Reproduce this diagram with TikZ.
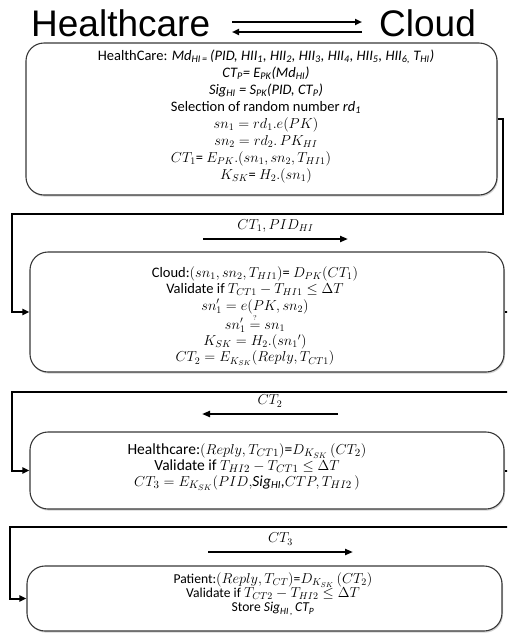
\documentclass[tikz,border=0pt]{standalone}
\usepackage{amsmath}
\usepackage[no-math]{fontspec}
\setmainfont{Carlito}
\newfontfamily\titlefont{Liberation Sans}
\usetikzlibrary{arrows.meta,shadows}
\newcommand\subit[1]{\textsubscript{\itshape #1}}

\begin{document}
\begin{tikzpicture}[x=1pt,y=-1pt,
  box/.style={draw=black!78, line width=1.1pt, rounded corners=18pt, fill=white,
    inner sep=0pt,
    drop shadow={shadow xshift=1pt, shadow yshift=-1.6pt, opacity=.35}},
  link/.style={line width=2pt, line join=miter,
    -{Triangle[length=7pt,width=6pt]}},
  msg/.style={line width=2pt, -{Triangle[length=8pt,width=6pt]}},
  tarrow/.style={line width=1.8pt, -{Triangle[length=7pt,width=6pt]}},
  title/.style={anchor=base west, inner sep=0pt,
    font=\titlefont\fontsize{37}{40}\selectfont},
  body/.style={align=center, inner sep=0pt},
  lbl/.style={above=6pt, inner sep=0pt, font=\fontsize{14}{16}\selectfont}
]
\useasboundingbox (0,0) rectangle (507,633);
\clip (0,0) rectangle (507,633);

% heading: the two parties and the two-way channel
\node[title] (hc) at (31,36) {Healthcare};
\node[title] (cl) at (379,36) {Cloud};
\coordinate (ta1) at (232,22);
\coordinate (ta2) at (362,22);
\coordinate (tb1) at (362,32);
\coordinate (tb2) at (232,32);
\draw[tarrow] (ta1) -- (ta2);
\draw[tarrow] (tb1) -- (tb2);

% protocol step boxes
\node[box, minimum width=471pt, minimum height=152pt] (b1) at (261.5,119) {};
\node[box, minimum width=474pt, minimum height=120pt] (b2) at (267,312) {};
\node[box, minimum width=474pt, minimum height=77pt]  (b3) at (267,470.5) {};
\node[box, minimum width=475pt, minimum height=65pt]  (b4) at (264.5,598.5) {};

% flow between the steps
\draw[link] (b1.east) -- (503,119) -- (503,214) -- (12,214) |- (b2.west);
\draw[link] (b2.east) -- (511,312) -- (511,392) -- (12,392) |- (b3.west);
\draw[link] (b3.east) -- (511,470.5) -- (511,527) -- (10,527) |- (b4.west);

% exchanged messages
\coordinate (m1a) at (203,239);
\coordinate (m1b) at (348,239);
\draw[msg] (m1a) -- node[lbl] (l1) {$CT_1, PID_{HI}$} (m1b);
\coordinate (m2a) at (338,414);
\coordinate (m2b) at (202,414);
\draw[msg] (m2a) -- node[lbl] (l2) {$CT_2$} (m2b);
\coordinate (m3a) at (208,552);
\coordinate (m3b) at (353,552);
\draw[msg] (m3a) -- node[lbl] (l3) {$CT_3$} (m3b);

% step contents
\node[body, font=\fontsize{14.5}{17}\selectfont] (t1) at (266,116) {%
HealthCare: \textit{Md\subit{HI\,=}\,(PID, HII\subit{1}, HII\subit{2}, HII\subit{3}, HII\subit{4}, HII\subit{5}, HII\subit{6,} T\subit{HI})}\\
\textit{CT\subit{P}= E\subit{PK}(Md\subit{HI})}\\
\textit{Sig\subit{HI} = S\subit{PK}(PID, CT\subit{P})}\\
Selection of random number \textit{rd\subit{1}}\\
$sn_1 = rd_1.e(PK)$\\
$sn_2 = rd_2.\,PK_{HI}$\\
\hspace*{-30pt}$CT_1$= $E_{PK}.(sn_1, sn_2, T_{HI1})$\\
$K_{SK}$= $H_2.(sn_1)$};

\node[body, font=\fontsize{14.5}{16.4}\selectfont] (t2) at (255,316) {%
Cloud:$(sn_1, sn_2, T_{HI1})$= $D_{PK}(CT_1)$\\
Validate if $T_{CT1} - T_{HI1} \le \Delta T$\\
$sn_1' = e(PK, sn_2)$\\
$sn_1' \stackrel{\scriptscriptstyle ?}{=} sn_1$\\
$K_{SK} = H_2.(sn_1{}')$\\
$CT_2 = E_{K_{SK}}(Reply, T_{CT1})$};

\node[body, font=\fontsize{15.5}{16}\selectfont] (t3) at (247,467) {%
Healthcare:$(Reply, T_{CT1})$=$D_{K_{SK}}\,(CT_2)$\\
Validate if $T_{HI2} - T_{CT1} \le \Delta T$\\
$CT_3 = E_{K_{SK}}(PID,$\textit{Sig\subit{HI},}$CTP, T_{HI2}\,)$};

\node[body, font=\fontsize{13.6}{14.2}\selectfont] (t4) at (273,594) {%
Patient:$(Reply, T_{CT})$=$D_{K_{SK}}\,(CT_2)$\\
Validate if $T_{CT2} - T_{HI2} \le \Delta T$\\
Store \textit{Sig\subit{HI\,,}\,CT\subit{P}}};
\end{tikzpicture}
\end{document}
